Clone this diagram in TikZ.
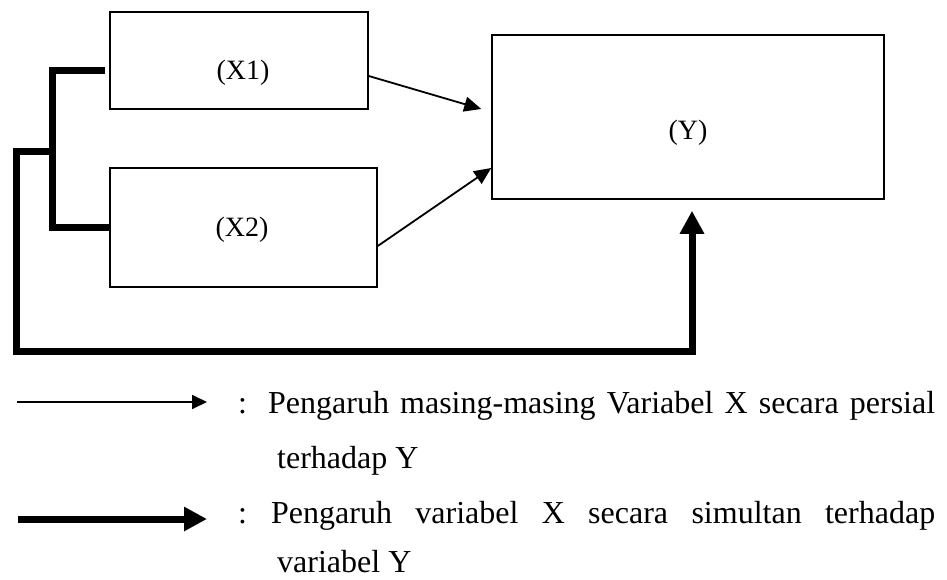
\documentclass[tikz,border=0pt]{standalone}
\usepackage{fontspec}
\setmainfont{Liberation Serif}
\usetikzlibrary{arrows.meta}

\begin{document}
\begin{tikzpicture}[x=1pt,y=-1pt,
  box/.style={draw, line width=1.5pt, inner sep=0pt},
  boxlabel/.style={inner sep=0pt, font=\fontsize{28}{33}\selectfont},
  legendtext/.style={anchor=base west, inner sep=0pt, font=\fontsize{32}{38}\selectfont},
  thinarrow/.style={line width=1.8pt, -{Triangle[length=15pt,width=14pt]}},
  partial/.style={line width=1.8pt, -{Triangle[length=17pt,width=15pt]}},
  thickline/.style={line width=7pt, line join=miter},
  thickarrow/.style={thickline, -{Triangle[length=23pt,width=23pt]}}]
\useasboundingbox (0,0) rectangle (947,580);

% variable boxes
\node[box, minimum width=258pt, minimum height=97pt]  (x1) at (239,60.5) {};
\node[box, minimum width=267pt, minimum height=119pt] (x2) at (243.5,227.5) {};
\node[box, minimum width=392pt, minimum height=164pt] (y)  at (688,117) {};
\node[boxlabel] (x1lab) at (243,73)  {(X1)};
\node[boxlabel] (x2lab) at (242,230) {(X2)};
\node[boxlabel] (ylab)  at (688,133) {(Y)};

% partial effects
\draw[partial] ([yshift=-15.5pt]x1.east) -- ([xshift=-10pt,yshift=8pt]y.west);
\draw[partial] ([yshift=-18.5pt]x2.east) -- ([yshift=-51pt]y.west);

% simultaneous effect: bracket joining X1 and X2, routed to Y
\coordinate (bt) at (52,71);
\coordinate (bj) at (52,152);
\coordinate (bo) at (16,152);
\coordinate (bl) at (16,351);
\coordinate (br) at (692,351);
\draw[thickline] ([xshift=-4pt,yshift=-10.5pt]x1.west) -- (bt) -- (bt |- x2.west) -- (x2.west);
\draw[thickarrow] (bj) -- (bo) -- (bl) -- (br) -- ([xshift=4pt,yshift=-11pt]y.south);

% legend
\coordinate (la1) at (17,402);
\coordinate (lb1) at (207,402);
\coordinate (la2) at (18,519);
\coordinate (lb2) at (207,519);
\draw[thinarrow] (la1) -- (lb1);
\draw[thickarrow] (la2) -- (lb2);

\node[legendtext] (c1) at (238,413) {:};
\node[legendtext] (t1) at (268,413) {\makebox[667pt][s]{Pengaruh masing-masing Variabel X secara persial}};
\node[legendtext] (t2) at (277,468) {terhadap Y};
\node[legendtext] (c2) at (238,523) {:};
\node[legendtext] (t3) at (271,523) {\makebox[664pt][s]{Pengaruh variabel X secara simultan terhadap}};
\node[legendtext] (t4) at (277,572) {variabel Y};
\end{tikzpicture}
\end{document}
